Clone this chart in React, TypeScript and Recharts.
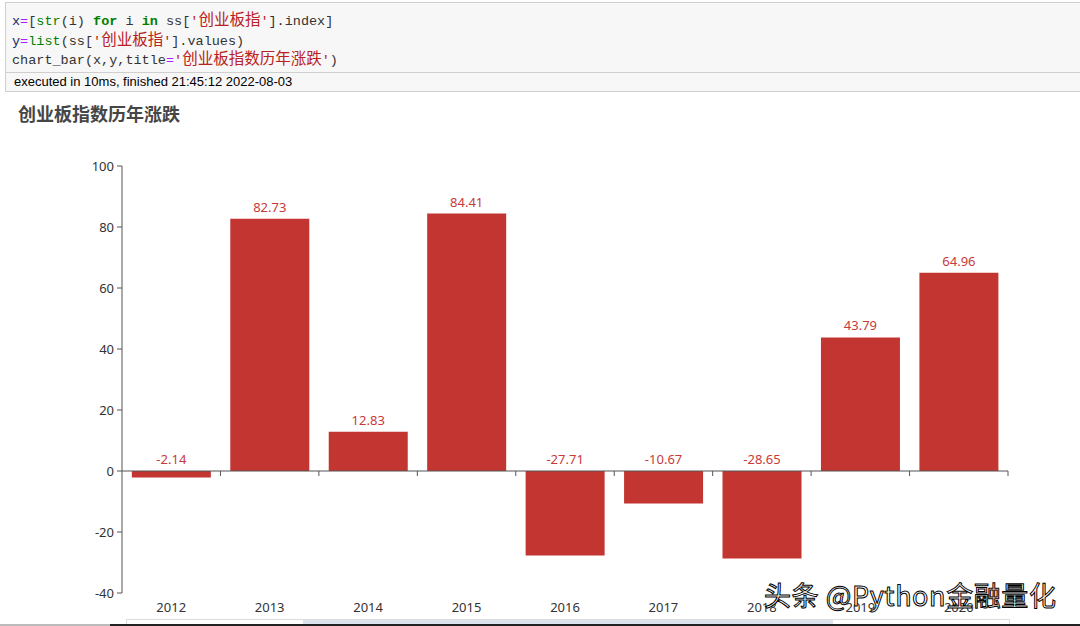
import React from "react";
import { BarChart, Bar, XAxis, YAxis, ReferenceLine, LabelList } from "recharts";

const years = ["2012", "2013", "2014", "2015", "2016", "2017", "2018", "2019", "2020"];
const changes = [-2.14, 82.73, 12.83, 84.41, -27.71, -10.67, -28.65, 43.79, 64.96];
const yTicks = [-40, -20, 0, 20, 40, 60, 80, 100];

const data = years.map((year, i) => ({ year, value: changes[i] }));

const RED = "#c23531";
const MONO = "'Liberation Mono', 'DejaVu Sans Mono', 'Noto Sans CJK SC', monospace";
const SANS = "'Noto Sans', 'Noto Sans CJK SC', sans-serif";
const CJK = "'Noto Sans CJK SC', 'Noto Sans', sans-serif";

const op = { color: "#AA22FF" };
const bi = { color: "#008000" };
const kw = { color: "#008000", fontWeight: 700 };
const st = { color: "#BA2121" };
const vr = { color: "#1a2a6a" };
const han = { fontFamily: CJK, fontSize: 15.5, lineHeight: "19px" };

const codeLine = (top: number) => ({
  position: "absolute" as const,
  left: 6,
  top,
  height: 19,
  lineHeight: "19px",
  whiteSpace: "pre" as const,
  fontFamily: MONO,
  fontSize: 13.5,
  color: "#333",
});

function ValueLabel(props: any) {
  const { x, y, width, height, value } = props;
  const top = Math.min(y, y + height);
  return (
    <text x={x + width / 2} y={top - 7} textAnchor="middle" fill="#c9393a" fontSize={13} fontFamily={SANS}>
      {value}
    </text>
  );
}

// category-axis ticks sit on the zero line, at the band boundaries
function ZeroAxisTicks(props: any) {
  const vb = props.viewBox || {};
  const step = vb.width / years.length;
  const marks = [];
  for (let i = 1; i <= years.length; i++) {
    const x = vb.x + step * i;
    marks.push(<line key={i} x1={x} x2={x} y1={vb.y} y2={vb.y + 5} stroke="#555" />);
  }
  return <g>{marks}</g>;
}

export default function App() {
  return (
    <div style={{ position: "absolute", left: 0, top: 0, width: 1080, height: 626, background: "#fff", overflow: "hidden" }}>
      <div
        style={{
          position: "absolute",
          left: 5,
          top: 2,
          width: 1080,
          height: 90,
          background: "#f7f7f7",
          border: "1px solid #cfcfcf",
          boxSizing: "border-box",
        }}
      >
        <div style={codeLine(6)}>
          <span style={vr}>x</span><span style={op}>=</span>[<span style={bi}>str</span>(i) <span style={kw}>for</span> i <span style={kw}>in</span> ss[<span style={st}>'<span style={han}>创业板指</span>'</span>].index]
        </div>
        <div style={codeLine(25.5)}>
          <span style={vr}>y</span><span style={op}>=</span><span style={bi}>list</span>(ss[<span style={st}>'<span style={han}>创业板指</span>'</span>].values)
        </div>
        <div style={codeLine(45)}>
          chart_bar(x,y,title<span style={op}>=</span><span style={st}>'<span style={han}>创业板指数历年涨跌</span>'</span>)
        </div>
        <div style={{ position: "absolute", left: 0, right: 0, top: 69, height: 1, background: "#cfcfcf" }} />
        <div style={{ position: "absolute", left: 8, top: 71, fontFamily: "'Liberation Sans', Arial, sans-serif", fontSize: 13, color: "#000" }}>
          executed in 10ms, finished 21:45:12 2022-08-03
        </div>
      </div>

      <div style={{ position: "absolute", left: 18, top: 100, fontFamily: CJK, fontWeight: 700, fontSize: 18, color: "#464646" }}>
        创业板指数历年涨跌
      </div>

      <div style={{ position: "absolute", left: 0, top: 131 }}>
        <BarChart width={1080} height={496} data={data} margin={{ top: 35, right: 72, bottom: 4, left: 62 }} barCategoryGap="10%">
          <XAxis
            dataKey="year"
            axisLine={false}
            tickLine={false}
            height={30}
            tickMargin={4}
            tick={{ fill: "#333", fontSize: 13, fontFamily: SANS }}
          />
          <YAxis
            domain={[-40, 100]}
            ticks={yTicks}
            width={60}
            axisLine={{ stroke: "#555" }}
            tickLine={{ stroke: "#555" }}
            tickSize={5}
            tickMargin={3}
            tick={{ fill: "#333", fontSize: 13, fontFamily: SANS }}
          />
          <Bar dataKey="value" fill={RED} isAnimationActive={false}>
            <LabelList dataKey="value" content={<ValueLabel />} />
          </Bar>
          <ReferenceLine y={0} stroke="#555" ifOverflow="extendDomain" label={(p: any) => <ZeroAxisTicks {...p} />} />
        </BarChart>
      </div>

      <div style={{ position: "absolute", left: 126, top: 619, width: 884, height: 8, border: "1px solid #dcdcdc", boxSizing: "border-box" }} />
      <div style={{ position: "absolute", left: 303, top: 620, width: 530, height: 6, background: "#dde3ec" }} />
      <div style={{ position: "absolute", left: 0, top: 624, width: 110, height: 2, background: "#bbb" }} />
      <div style={{ position: "absolute", left: 110, top: 624, width: 970, height: 2, background: "#222" }} />

      <div
        style={{
          position: "absolute",
          left: 764,
          top: 575,
          fontFamily: CJK,
          fontSize: 27,
          color: "#fff",
          WebkitTextStroke: "1px #000",
          letterSpacing: 0.6,
          whiteSpace: "nowrap",
        }}
      >
        头条 @Python金融量化
      </div>
    </div>
  );
}
